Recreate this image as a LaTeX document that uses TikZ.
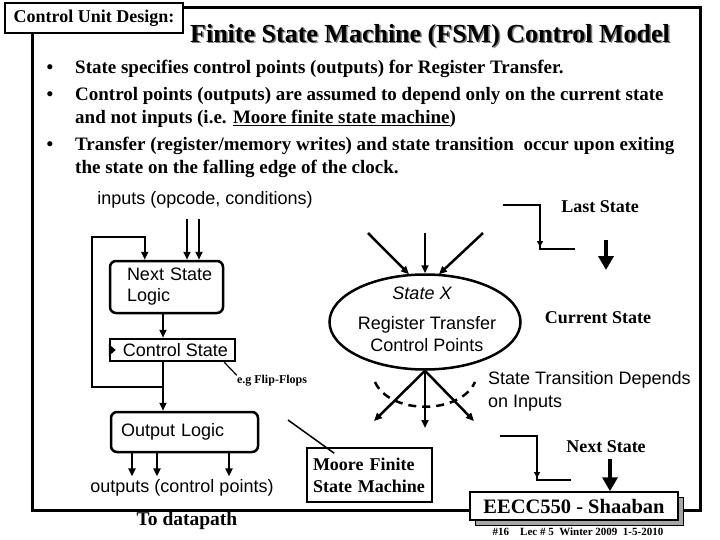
\documentclass[tikz,border=0pt]{standalone}
\usepackage{fontspec}
\setmainfont{Liberation Serif}
\setsansfont{Liberation Sans}
\usetikzlibrary{positioning,arrows.meta,shapes.geometric,calc,shadows}

\tikzset{
  frame/.style={line width=3pt},
  bodytxt/.style={font=\bfseries\fontsize{18}{20}\selectfont, inner sep=0pt},
  listtxt/.style={font=\bfseries\fontsize{19}{22}\selectfont, inner sep=0pt},
  sanstxt/.style={font=\sffamily\fontsize{18}{21}\selectfont, inner sep=0pt},
  logicbox/.style={draw, line width=2.5pt, rounded corners=6pt, sanstxt, align=left},
  arr/.style={-{Triangle[length=8pt,width=7pt]}, line width=2.5pt},
  wave/.style={line width=2.5pt},
  bigarr/.style={-{Triangle[length=14pt,width=15pt]}, line width=4.5pt},
}

\begin{document}
\begin{tikzpicture}[x=1pt, y=-1pt]
\useasboundingbox (0,0) rectangle (720,540);
% outer frame
\draw[frame] (32,8) rectangle (700,510);

% heading
\node[draw, line width=1.5pt, fill=white, bodytxt, minimum width=178pt, minimum height=30pt] (cud) at (94,18) {Control Unit Design:};
\node[font=\bfseries\fontsize{26}{30}\selectfont, text=gray] (titleshd) at (431.5,37.5) {Finite State Machine (FSM) Control Model};
\node[font=\bfseries\fontsize{26}{30}\selectfont] (title) at (430,36) {Finite State Machine (FSM) Control Model};

% bullet list
\foreach \y in {69,96,146}
  \node[listtxt] (dot\y) at (50,\y) {\textbullet};
\node[listtxt, anchor=west] (l1) at (75,69) {State specifies control points (outputs) for Register Transfer.};
\node[listtxt, anchor=west] (l2) at (75,96) {Control points (outputs) are assumed to depend only on the current state};
\node[listtxt, anchor=west] (l3) at (75,119) {and not inputs (i.e. \underline{Moore finite state machine})};
\node[listtxt, anchor=west] (l4) at (75,146) {Transfer (register/memory writes) and state transition\ \ occur upon exiting};
\node[listtxt, anchor=west] (l5) at (75,169) {the state on the falling edge of the clock.};

% control unit blocks
\node[sanstxt] (inlbl) at (205,200) {inputs (opcode, conditions)};
\node[logicbox, minimum width=113pt, minimum height=52pt, text width=104pt, inner xsep=4.5pt] (nsl) at (166.5,287) {\hspace*{12.5pt}Next State\\\hspace*{12.5pt}Logic};
\node[draw, line width=2.5pt, sanstxt, minimum width=125pt, minimum height=22pt] (cs) at (172.5,350) {\hspace{6pt}Control State};
\fill (cs.west) ++(0,-6) -- ++(7,6) -- ++(-7,6) -- cycle;
\node[logicbox, minimum width=147pt, minimum height=40pt, text width=127pt, inner xsep=10pt] (ol) at (184.5,432) {Output Logic};
\node[sanstxt] (outlbl) at (182,488) {outputs (control points)};
\node[bodytxt, font=\bfseries\fontsize{19.5}{22}\selectfont] (todp) at (187,521) {To datapath};

\coordinate (in1) at (187,219);
\coordinate (in2) at (199,219);
\coordinate (tap) at (163,387);
\coordinate (loopc) at (92,237);
\foreach \c in {in1,in2}
  \draw[arr] (\c) -- (\c |- nsl.north);
\draw[arr] (tap |- nsl.south) -- (tap |- cs.north);
\draw[arr] (tap |- cs.south) -- (tap |- ol.north);
\draw[arr] (tap) -| (loopc) -| ($(nsl.north west)+(36,0)$);
\foreach \x in {132,157,229}
  \draw[arr, shorten >=3pt] (\x,0 |- ol.south) -- (\x,0 |- outlbl.north);

\node[font=\bfseries\fontsize{12}{14}\selectfont, inner sep=0pt] (ff) at (272,381) {e.g Flip-Flops};
\draw[line width=1.2pt] ($(cs.south east)+(-12,0)$) -- (ff.north west);

% state bubble
\node[draw, ellipse, line width=2.5pt, minimum width=191pt, minimum height=95pt] (sx) at (425,322) {};
\node[font=\sffamily\itshape\fontsize{18}{21}\selectfont, inner sep=0pt] (sxname) at (422,293) {State X};
\node[sanstxt, align=center, font=\sffamily\fontsize{18}{22}\selectfont] (sxrt) at (427,334) {Register Transfer\\Control Points};

\coordinate (i1) at (368,233);
\coordinate (i2) at (425,233);
\coordinate (i3) at (483,233);
\draw[arr] (i1) -- ($(sx.north)+(-16,1)$);
\draw[arr] (i2) -- (i2 |- sx.north);
\draw[arr] (i3) -- ($(sx.north)+(14,1)$);

\coordinate (o1) at (374,421);
\coordinate (o2) at (425,428);
\coordinate (o3) at (474,421);
\foreach \c in {o1,o2,o3}
  \draw[arr] (sx.south) -- (\c);

\coordinate (d1) at (375,382);
\coordinate (d2) at (475,382);
\draw[dash pattern=on 8pt off 6pt, line width=2.5pt] (d1) .. controls (390,415) and (460,415) .. (d2);
\node[sanstxt, align=left, anchor=west, font=\sffamily\fontsize{18}{23}\selectfont] (stlbl) at (488,391) {State Transition Depends\\on Inputs};

% clock edges
\node[bodytxt] (last) at (600,207) {Last State};
\coordinate (lw1) at (503,205);
\coordinate (lw2) at (540,249);
\coordinate (lw3) at (575,249);
\draw[wave] (lw1) -| (lw2) -- (lw3);
\draw[line width=2pt, -{Triangle[length=6pt,width=6pt]}] ($(lw2)+(0,-14)$) -- ($(lw2)+(0,-2)$);
\coordinate (la) at (606,240);
\draw[bigarr] (la) -- ++(0,30);
\node[bodytxt] (cur) at (598,318) {Current State};

\node[bodytxt] (next) at (606,447) {Next State};
\coordinate (nw1) at (500,436);
\coordinate (nw2) at (537,480);
\coordinate (nw3) at (571,480);
\draw[wave] (nw1) -| (nw2) -- (nw3);
\draw[line width=2pt, -{Triangle[length=6pt,width=6pt]}] ($(nw2)+(0,-14)$) -- ($(nw2)+(0,-2)$);

% notes
\node[draw, line width=1.5pt, bodytxt, font=\bfseries\fontsize{18}{22}\selectfont, align=left, minimum width=125pt, minimum height=54pt, text width=113pt, inner xsep=6pt] (moore) at (369.5,475) {Moore Finite\\State Machine};
\coordinate (mp) at (288,420);
\draw[line width=1.5pt] (mp) -- ($(moore.north west)+(28,6)$);

\node[draw, line width=1.5pt, fill=white, font=\bfseries\fontsize{20.5}{24}\selectfont, minimum width=208pt, minimum height=28pt,
  general shadow={fill=gray!70, draw=black, line width=0.8pt, shadow xshift=5pt, shadow yshift=-5pt}] (eecc) at (574,506) {EECC550 - Shaaban};
\coordinate (na) at (610,459);
\draw[bigarr] (na) -- (na |- eecc.north);
\node[font=\bfseries\fontsize{11}{13}\selectfont, inner sep=0pt] (foot) at (578,532) {\#16\quad Lec \# 5\ \ Winter 2009\ \ 1-5-2010};
\end{tikzpicture}
\end{document}
